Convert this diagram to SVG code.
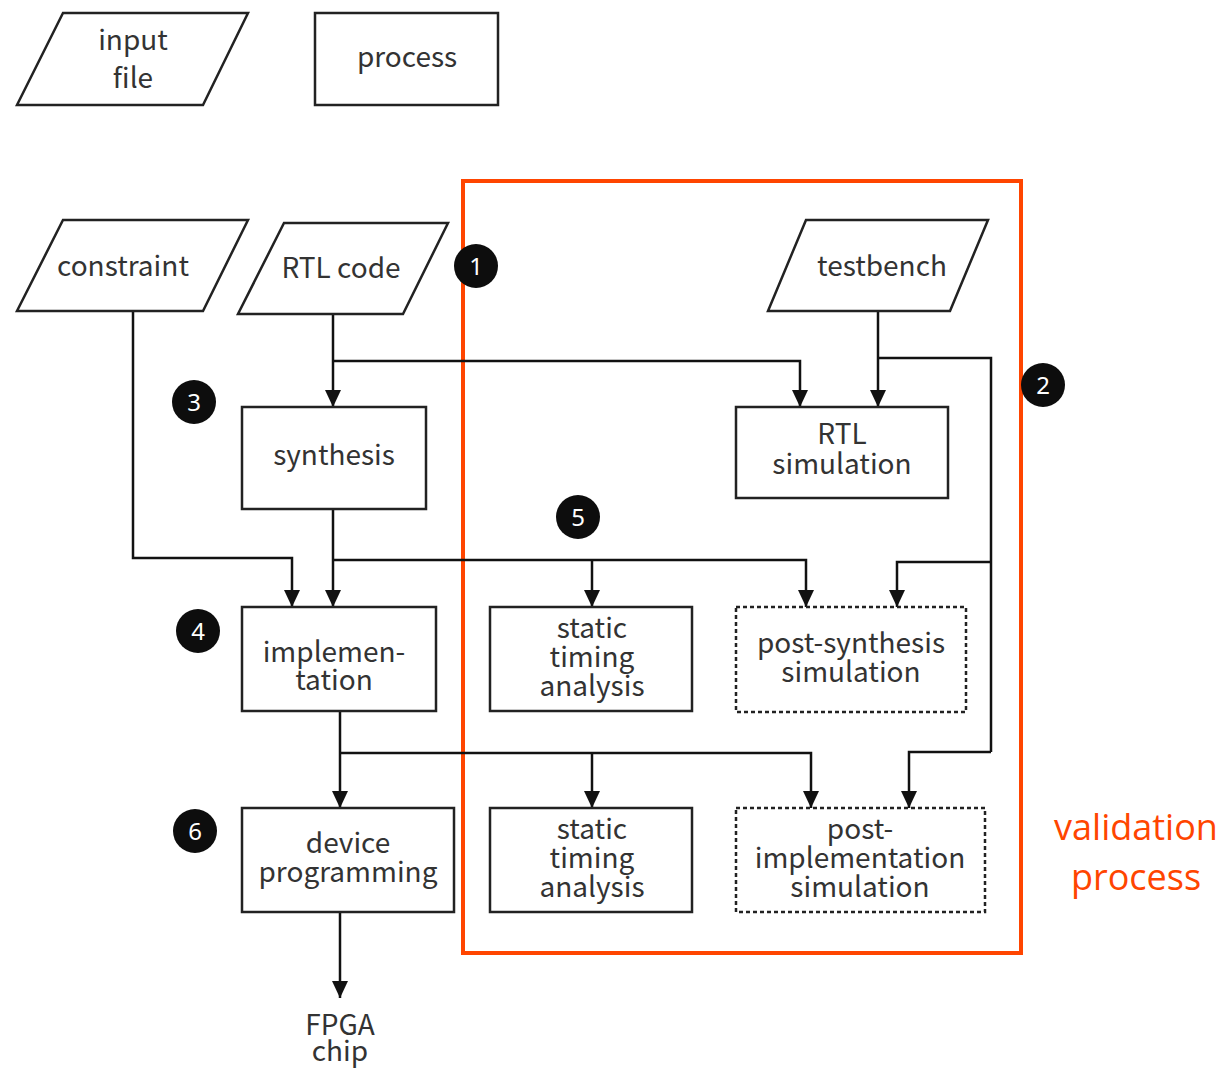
<svg xmlns="http://www.w3.org/2000/svg" width="1225" height="1070" viewBox="0 0 1225 1070">
<style>
.sh{fill:#fff;stroke:#222;stroke-width:2.5}
.dash{fill:#fff;stroke:#222;stroke-width:2.5;stroke-dasharray:4 3}
.t{font-family:"Noto Sans CJK JP","Noto Sans",sans-serif;font-size:28px;fill:#333;text-anchor:middle}
.c{fill:none;stroke:#111;stroke-width:2.5}
.b{fill:#0d0d0d}
.bt{font-family:"Noto Sans","DejaVu Sans",sans-serif;font-size:24px;fill:#fff;text-anchor:middle}
.red{fill:none;stroke:#FF4500;stroke-width:4}
.rt{font-family:"Open Sans","Noto Sans",sans-serif;font-size:36px;fill:#FF4500;text-anchor:middle}
</style>
<defs>
<marker id="ah" markerUnits="userSpaceOnUse" markerWidth="18" markerHeight="16" refX="17" refY="8" orient="auto">
<path d="M0,0 L17,8 L0,16 z" fill="#111"/>
</marker>
</defs>
<rect width="1225" height="1070" fill="#fff"/>

<g id="legend-input">
<polygon class="sh" points="63,13 248,13 203,105 17,105"/>
<text class="t" x="133" y="50">input</text>
<text class="t" x="133" y="88">file</text>
</g>
<g id="legend-process">
<rect class="sh" x="315" y="13" width="183" height="92"/>
<text class="t" x="407" y="67">process</text>
</g>

<g id="validation-box">
<rect class="red" x="463" y="181" width="558" height="772"/>
<text class="rt" x="1136" y="840">validation</text>
<text class="rt" x="1136" y="890">process</text>
</g>

<g id="connectors">
<path class="c" d="M333,314 V407" marker-end="url(#ah)"/>
<path class="c" d="M333,361 H800 V407" marker-end="url(#ah)"/>
<path class="c" d="M878,311 V407" marker-end="url(#ah)"/>
<path class="c" d="M878,358 H991 V752"/>
<path class="c" d="M991,562 H897 V607" marker-end="url(#ah)"/>
<path class="c" d="M991,752 H909 V808" marker-end="url(#ah)"/>
<path class="c" d="M133,311 V558 H292 V607" marker-end="url(#ah)"/>
<path class="c" d="M333,509 V607" marker-end="url(#ah)"/>
<path class="c" d="M333,560 H806 V607" marker-end="url(#ah)"/>
<path class="c" d="M592,560 V607" marker-end="url(#ah)"/>
<path class="c" d="M340,711 V808" marker-end="url(#ah)"/>
<path class="c" d="M340,753 H811 V808" marker-end="url(#ah)"/>
<path class="c" d="M592,753 V808" marker-end="url(#ah)"/>
<path class="c" d="M340,912 V998" marker-end="url(#ah)"/>
</g>

<g id="constraint">
<polygon class="sh" points="63,220 248,220 203,311 17,311"/>
<text class="t" x="123" y="276">constraint</text>
</g>
<g id="rtl-code">
<polygon class="sh" points="284,223 448,223 403,314 238,314"/>
<text class="t" x="341" y="278">RTL code</text>
</g>
<g id="testbench">
<polygon class="sh" points="806,220 988,220 950,311 768,311"/>
<text class="t" x="882" y="276">testbench</text>
</g>
<g id="synthesis">
<rect class="sh" x="242" y="407" width="184" height="102"/>
<text class="t" x="334" y="465">synthesis</text>
</g>
<g id="rtl-simulation">
<rect class="sh" x="736" y="407" width="212" height="91"/>
<text class="t" x="842" y="444">RTL</text>
<text class="t" x="842" y="474">simulation</text>
</g>
<g id="implementation">
<rect class="sh" x="242" y="607" width="194" height="104"/>
<text class="t" x="334" y="662">implemen-</text>
<text class="t" x="334" y="690">tation</text>
</g>
<g id="sta-1">
<rect class="sh" x="490" y="607" width="202" height="104"/>
<text class="t" x="592" y="638">static</text>
<text class="t" x="592" y="667">timing</text>
<text class="t" x="592" y="696">analysis</text>
</g>
<g id="post-synthesis">
<rect class="dash" x="736" y="607" width="230" height="105"/>
<text class="t" x="851" y="653">post-synthesis</text>
<text class="t" x="851" y="682">simulation</text>
</g>
<g id="device-programming">
<rect class="sh" x="242" y="808" width="212" height="104"/>
<text class="t" x="348" y="853">device</text>
<text class="t" x="348" y="882">programming</text>
</g>
<g id="sta-2">
<rect class="sh" x="490" y="808" width="202" height="104"/>
<text class="t" x="592" y="839">static</text>
<text class="t" x="592" y="868">timing</text>
<text class="t" x="592" y="897">analysis</text>
</g>
<g id="post-implementation">
<rect class="dash" x="736" y="808" width="249" height="104"/>
<text class="t" x="860" y="839">post-</text>
<text class="t" x="860" y="868">implementation</text>
<text class="t" x="860" y="897">simulation</text>
</g>
<g id="fpga-chip">
<text class="t" x="340" y="1035">FPGA</text>
<text class="t" x="340" y="1061">chip</text>
</g>

<g id="badges">
<g id="badge-1"><circle class="b" cx="476" cy="266" r="22"/><text class="bt" x="476" y="275">1</text></g>
<g id="badge-2"><circle class="b" cx="1043" cy="385" r="22"/><text class="bt" x="1043" y="394">2</text></g>
<g id="badge-3"><circle class="b" cx="194" cy="402" r="22"/><text class="bt" x="194" y="411">3</text></g>
<g id="badge-4"><circle class="b" cx="198" cy="631" r="22"/><text class="bt" x="198" y="640">4</text></g>
<g id="badge-5"><circle class="b" cx="578" cy="517" r="22"/><text class="bt" x="578" y="526">5</text></g>
<g id="badge-6"><circle class="b" cx="195" cy="831" r="22"/><text class="bt" x="195" y="840">6</text></g>
</g>
</svg>
